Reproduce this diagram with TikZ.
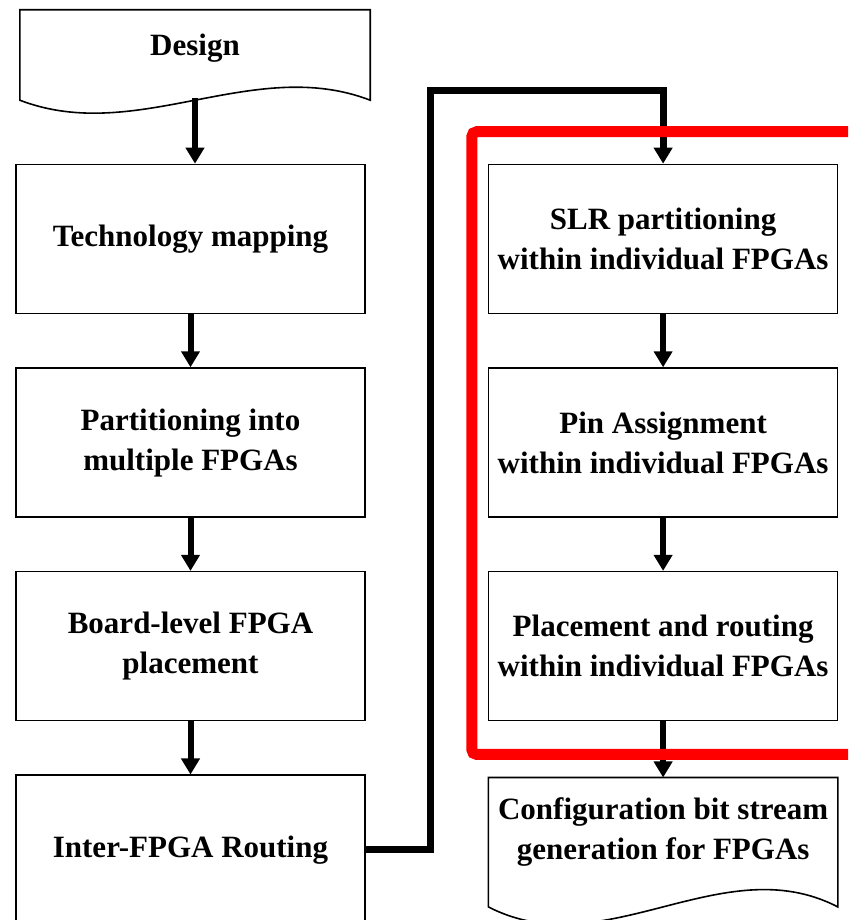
\documentclass[tikz,border=0pt]{standalone}
\usepackage{fontspec}
\setmainfont{Liberation Serif}
\usetikzlibrary{positioning, arrows.meta}
\usetikzlibrary{calc}
\tikzset{
>={Triangle[width=18pt,length=16pt]}, % solid triangle heads
x=1pt, y=1pt, % coordinates in points
node distance=53pt and 122pt, % vertical and horizontal gaps between the steps
stage/.style={draw, line width=1.6pt, minimum width=349pt, minimum height=149pt, align=center, font=\fontsize{31}{40}\selectfont\bfseries}, % one step of the flow
doc/.style={inner sep=2pt, align=center, font=\fontsize{31}{40}\selectfont\bfseries}, % text part of a document shape
docline/.style={draw, line width=1.6pt}, % outline of a document shape
flow/.style={->, line width=6pt}, % thick arrows between the steps
highlight/.style={draw=red, line width=11pt, rounded corners=5pt}, % red frame round the per-FPGA steps
}

\begin{document}
\begin{tikzpicture}
    \useasboundingbox (0,0) rectangle (848,920);
    \clip (0,0) rectangle (848,920);
    \node[stage] (tech) at (190.5,681) {Technology mapping};
    \node[stage, below=of tech] (part) {Partitioning into\\multiple FPGAs};
    \node[stage, below=of part] (board) {Board-level FPGA\\placement};
    \node[stage, below=of board] (inter) {Inter-FPGA Routing};
    \node[stage, right=of tech] (slr) {SLR partitioning\\within individual FPGAs};
    \node[stage, below=of slr] (pin) {Pin Assignment\\within individual FPGAs};
    \node[stage, below=of pin] (place) {Placement and routing\\within individual FPGAs};
    \node[doc, minimum width=350pt, minimum height=76pt] (design) at (195,872) {Design};
    \node[doc, below=56pt of place, minimum width=349pt, minimum height=108pt] (config) {Configuration bit stream\\generation for FPGAs};
    % documents with a wavy bottom
    \draw[docline] (design.north west) -- (design.north east) -- ([yshift=-14pt]design.south east)
        .. controls +(-117,45) and +(117,-45) .. ([yshift=-14pt]design.south west) -- cycle;
    \draw[docline] (config.north west) -- (config.north east) -- ([yshift=-21pt]config.south east)
        .. controls +(-116,60) and +(116,-60) .. ([yshift=-21pt]config.south west) -- cycle;
    \draw[flow] ([yshift=-12pt]design.south) -- (design.south |- tech.north);
    \draw[flow] (tech) -- (part);
    \draw[flow] (part) -- (board);
    \draw[flow] (board) -- (inter);
    \draw[flow] (slr) -- (pin);
    \draw[flow] (pin) -- (place);
    \draw[flow] (place) -- (config);
    \coordinate (turn) at (430,829.5);
    \draw[flow, line width=7pt] (inter.east) -| (turn) -| (slr.north);
    \draw[highlight] ($(slr.north west)+(-16,32)$) rectangle ($(place.south east)+(60,-33)$);
\end{tikzpicture}
\end{document}
